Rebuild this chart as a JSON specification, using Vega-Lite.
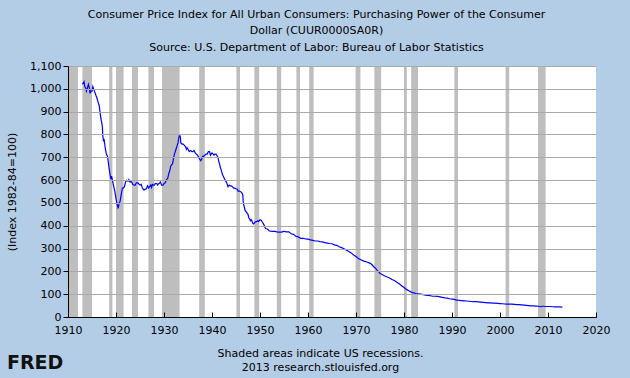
{
  "$schema": "https://vega.github.io/schema/vega-lite/v6.json",
  "width": 528,
  "height": 251,
  "autosize": {"type": "none"},
  "padding": {"left": 68, "top": 66, "right": 34, "bottom": 61},
  "background": "#b4cde6",
  "config": {
    "view": {"stroke": null, "fill": "#ffffff"},
    "font": "DejaVu Sans",
    "axis": {"labelFont": "DejaVu Sans", "titleFont": "DejaVu Sans", "labelColor": "#000000", "titleColor": "#000000", "titleFontWeight": "normal"}
  },
  "title": {
    "text": "FRED",
    "orient": "bottom",
    "anchor": "start",
    "frame": "group",
    "font": "DejaVu Sans",
    "fontSize": 19,
    "fontWeight": "bold",
    "color": "#111111",
    "offset": -18,
    "dx": -61
  },
  "datasets": {
    "rec": [
      {"start": 1910.0, "end": 1912.08},
      {"start": 1913.0, "end": 1915.0},
      {"start": 1918.58, "end": 1919.25},
      {"start": 1920.0, "end": 1921.58},
      {"start": 1923.33, "end": 1924.58},
      {"start": 1926.75, "end": 1927.92},
      {"start": 1929.58, "end": 1933.25},
      {"start": 1937.33, "end": 1938.5},
      {"start": 1945.08, "end": 1945.83},
      {"start": 1948.83, "end": 1949.83},
      {"start": 1953.5, "end": 1954.42},
      {"start": 1957.58, "end": 1958.33},
      {"start": 1960.25, "end": 1961.17},
      {"start": 1969.92, "end": 1970.92},
      {"start": 1973.83, "end": 1975.25},
      {"start": 1980.0, "end": 1980.58},
      {"start": 1981.5, "end": 1982.92},
      {"start": 1990.5, "end": 1991.25},
      {"start": 2001.17, "end": 2001.92},
      {"start": 2007.92, "end": 2009.5}
    ],
    "cpi": [
      {"t": 1913.0, "v": 1020}, {"t": 1913.33, "v": 1031}, {"t": 1913.5, "v": 1010}, {"t": 1913.75, "v": 1000}, {"t": 1913.83, "v": 990},
      {"t": 1914.0, "v": 1000}, {"t": 1914.25, "v": 1020}, {"t": 1914.5, "v": 1000}, {"t": 1914.58, "v": 980}, {"t": 1914.75, "v": 990},
      {"t": 1915.0, "v": 990}, {"t": 1915.17, "v": 1010}, {"t": 1915.5, "v": 990}, {"t": 1915.83, "v": 971},
      {"t": 1916.0, "v": 962}, {"t": 1916.25, "v": 943}, {"t": 1916.5, "v": 926}, {"t": 1916.75, "v": 885}, {"t": 1916.92, "v": 862},
      {"t": 1917.0, "v": 855}, {"t": 1917.17, "v": 833}, {"t": 1917.25, "v": 794}, {"t": 1917.42, "v": 769}, {"t": 1917.5, "v": 781}, {"t": 1917.75, "v": 741},
      {"t": 1918.0, "v": 714}, {"t": 1918.25, "v": 704}, {"t": 1918.5, "v": 662}, {"t": 1918.75, "v": 625}, {"t": 1918.92, "v": 606},
      {"t": 1919.0, "v": 606}, {"t": 1919.08, "v": 617}, {"t": 1919.25, "v": 599}, {"t": 1919.5, "v": 575}, {"t": 1919.75, "v": 552}, {"t": 1919.92, "v": 529},
      {"t": 1920.0, "v": 518}, {"t": 1920.25, "v": 493}, {"t": 1920.42, "v": 478}, {"t": 1920.5, "v": 481}, {"t": 1920.67, "v": 500}, {"t": 1920.83, "v": 505}, {"t": 1920.92, "v": 515},
      {"t": 1921.0, "v": 526}, {"t": 1921.17, "v": 546}, {"t": 1921.33, "v": 565}, {"t": 1921.5, "v": 565}, {"t": 1921.75, "v": 571},
      {"t": 1922.0, "v": 592}, {"t": 1922.17, "v": 599}, {"t": 1922.5, "v": 595}, {"t": 1922.67, "v": 602}, {"t": 1922.92, "v": 592},
      {"t": 1923.0, "v": 595}, {"t": 1923.25, "v": 592}, {"t": 1923.5, "v": 581}, {"t": 1923.75, "v": 578},
      {"t": 1924.0, "v": 578}, {"t": 1924.25, "v": 588}, {"t": 1924.58, "v": 588}, {"t": 1924.83, "v": 581},
      {"t": 1925.0, "v": 578}, {"t": 1925.25, "v": 581}, {"t": 1925.5, "v": 565}, {"t": 1925.83, "v": 556}, {"t": 1925.92, "v": 559},
      {"t": 1926.0, "v": 559}, {"t": 1926.33, "v": 562}, {"t": 1926.5, "v": 571}, {"t": 1926.58, "v": 575}, {"t": 1926.83, "v": 565},
      {"t": 1927.0, "v": 571}, {"t": 1927.25, "v": 578}, {"t": 1927.42, "v": 568}, {"t": 1927.58, "v": 581}, {"t": 1927.83, "v": 578},
      {"t": 1928.0, "v": 578}, {"t": 1928.17, "v": 585}, {"t": 1928.5, "v": 585}, {"t": 1928.67, "v": 578}, {"t": 1928.92, "v": 585},
      {"t": 1929.0, "v": 585}, {"t": 1929.25, "v": 592}, {"t": 1929.5, "v": 578}, {"t": 1929.83, "v": 578}, {"t": 1929.92, "v": 581},
      {"t": 1930.0, "v": 585}, {"t": 1930.25, "v": 588}, {"t": 1930.5, "v": 602}, {"t": 1930.75, "v": 606}, {"t": 1930.92, "v": 621},
      {"t": 1931.0, "v": 629}, {"t": 1931.25, "v": 645}, {"t": 1931.42, "v": 662}, {"t": 1931.75, "v": 671}, {"t": 1931.92, "v": 685},
      {"t": 1932.0, "v": 699}, {"t": 1932.25, "v": 719}, {"t": 1932.5, "v": 735}, {"t": 1932.75, "v": 752}, {"t": 1932.92, "v": 763},
      {"t": 1933.0, "v": 775}, {"t": 1933.17, "v": 794}, {"t": 1933.33, "v": 794}, {"t": 1933.42, "v": 787}, {"t": 1933.5, "v": 763}, {"t": 1933.75, "v": 758},
      {"t": 1934.0, "v": 758}, {"t": 1934.25, "v": 752}, {"t": 1934.5, "v": 746}, {"t": 1934.67, "v": 735}, {"t": 1934.83, "v": 741},
      {"t": 1935.0, "v": 735}, {"t": 1935.25, "v": 725}, {"t": 1935.5, "v": 730}, {"t": 1935.83, "v": 725},
      {"t": 1936.0, "v": 725}, {"t": 1936.25, "v": 730}, {"t": 1936.5, "v": 719}, {"t": 1936.75, "v": 714},
      {"t": 1937.0, "v": 709}, {"t": 1937.25, "v": 699}, {"t": 1937.5, "v": 690}, {"t": 1937.67, "v": 685}, {"t": 1937.92, "v": 694},
      {"t": 1938.0, "v": 704}, {"t": 1938.25, "v": 704}, {"t": 1938.5, "v": 709}, {"t": 1938.75, "v": 714},
      {"t": 1939.0, "v": 714}, {"t": 1939.25, "v": 725}, {"t": 1939.5, "v": 725}, {"t": 1939.67, "v": 709}, {"t": 1939.83, "v": 714},
      {"t": 1940.0, "v": 719}, {"t": 1940.25, "v": 714}, {"t": 1940.42, "v": 709}, {"t": 1940.58, "v": 714}, {"t": 1940.83, "v": 714},
      {"t": 1941.0, "v": 709}, {"t": 1941.25, "v": 699}, {"t": 1941.42, "v": 680}, {"t": 1941.58, "v": 671}, {"t": 1941.75, "v": 654}, {"t": 1941.92, "v": 645},
      {"t": 1942.0, "v": 637}, {"t": 1942.25, "v": 621}, {"t": 1942.5, "v": 610}, {"t": 1942.75, "v": 599}, {"t": 1942.92, "v": 592},
      {"t": 1943.0, "v": 592}, {"t": 1943.17, "v": 581}, {"t": 1943.33, "v": 571}, {"t": 1943.58, "v": 578}, {"t": 1943.75, "v": 575},
      {"t": 1944.0, "v": 575}, {"t": 1944.25, "v": 571}, {"t": 1944.5, "v": 565}, {"t": 1944.75, "v": 565}, {"t": 1944.92, "v": 562},
      {"t": 1945.0, "v": 562}, {"t": 1945.33, "v": 559}, {"t": 1945.42, "v": 552}, {"t": 1945.75, "v": 552}, {"t": 1945.92, "v": 549},
      {"t": 1946.0, "v": 549}, {"t": 1946.25, "v": 543}, {"t": 1946.42, "v": 535}, {"t": 1946.5, "v": 505}, {"t": 1946.58, "v": 495}, {"t": 1946.75, "v": 481}, {"t": 1946.92, "v": 465},
      {"t": 1947.0, "v": 465}, {"t": 1947.25, "v": 457}, {"t": 1947.5, "v": 450}, {"t": 1947.67, "v": 435}, {"t": 1947.92, "v": 427},
      {"t": 1948.0, "v": 422}, {"t": 1948.17, "v": 427}, {"t": 1948.33, "v": 420}, {"t": 1948.5, "v": 410}, {"t": 1948.67, "v": 408}, {"t": 1948.92, "v": 415},
      {"t": 1949.0, "v": 417}, {"t": 1949.25, "v": 418}, {"t": 1949.5, "v": 422}, {"t": 1949.67, "v": 418}, {"t": 1949.92, "v": 424},
      {"t": 1950.0, "v": 426}, {"t": 1950.25, "v": 424}, {"t": 1950.5, "v": 415}, {"t": 1950.75, "v": 407}, {"t": 1950.92, "v": 400},
      {"t": 1951.0, "v": 394}, {"t": 1951.17, "v": 388}, {"t": 1951.5, "v": 386}, {"t": 1951.75, "v": 382}, {"t": 1951.92, "v": 377},
      {"t": 1952.0, "v": 377}, {"t": 1952.5, "v": 375}, {"t": 1952.92, "v": 375},
      {"t": 1953.0, "v": 376}, {"t": 1953.5, "v": 373}, {"t": 1953.92, "v": 372},
      {"t": 1954.0, "v": 372}, {"t": 1954.5, "v": 372}, {"t": 1954.92, "v": 375},
      {"t": 1955.0, "v": 375}, {"t": 1955.5, "v": 373}, {"t": 1955.92, "v": 373},
      {"t": 1956.0, "v": 373}, {"t": 1956.5, "v": 365}, {"t": 1956.92, "v": 362},
      {"t": 1957.0, "v": 362}, {"t": 1957.5, "v": 353}, {"t": 1957.92, "v": 352},
      {"t": 1958.0, "v": 350}, {"t": 1958.5, "v": 345},
      {"t": 1959.0, "v": 345}, {"t": 1959.5, "v": 342},
      {"t": 1960.0, "v": 341}, {"t": 1960.5, "v": 338},
      {"t": 1961.0, "v": 336}, {"t": 1961.5, "v": 333},
      {"t": 1962.0, "v": 333}, {"t": 1962.5, "v": 330},
      {"t": 1963.0, "v": 329}, {"t": 1963.5, "v": 326},
      {"t": 1964.0, "v": 324}, {"t": 1964.5, "v": 322},
      {"t": 1965.0, "v": 321}, {"t": 1965.5, "v": 316},
      {"t": 1966.0, "v": 314}, {"t": 1966.5, "v": 308},
      {"t": 1967.0, "v": 304}, {"t": 1967.5, "v": 299},
      {"t": 1968.0, "v": 293}, {"t": 1968.5, "v": 287},
      {"t": 1969.0, "v": 281}, {"t": 1969.5, "v": 272},
      {"t": 1970.0, "v": 265}, {"t": 1970.5, "v": 256},
      {"t": 1971.0, "v": 251}, {"t": 1971.5, "v": 246},
      {"t": 1972.0, "v": 243}, {"t": 1972.5, "v": 239},
      {"t": 1973.0, "v": 235}, {"t": 1973.5, "v": 226}, {"t": 1973.58, "v": 222},
      {"t": 1974.0, "v": 215}, {"t": 1974.5, "v": 202},
      {"t": 1975.0, "v": 192}, {"t": 1975.5, "v": 185},
      {"t": 1976.0, "v": 180}, {"t": 1976.5, "v": 175},
      {"t": 1977.0, "v": 171}, {"t": 1977.5, "v": 164},
      {"t": 1978.0, "v": 160}, {"t": 1978.5, "v": 152},
      {"t": 1979.0, "v": 146}, {"t": 1979.5, "v": 137},
      {"t": 1980.0, "v": 129}, {"t": 1980.5, "v": 121},
      {"t": 1981.0, "v": 115}, {"t": 1981.5, "v": 109},
      {"t": 1982.0, "v": 106}, {"t": 1982.5, "v": 103},
      {"t": 1983.0, "v": 102}, {"t": 1983.5, "v": 100},
      {"t": 1984.0, "v": 98}, {"t": 1984.5, "v": 96},
      {"t": 1985.0, "v": 95}, {"t": 1985.5, "v": 93},
      {"t": 1986.0, "v": 91}, {"t": 1986.5, "v": 91},
      {"t": 1987.0, "v": 90}, {"t": 1987.5, "v": 88},
      {"t": 1988.0, "v": 86}, {"t": 1988.5, "v": 84},
      {"t": 1989.0, "v": 83}, {"t": 1989.5, "v": 80},
      {"t": 1990.0, "v": 78.5}, {"t": 1990.5, "v": 77},
      {"t": 1991.0, "v": 74}, {"t": 1991.5, "v": 73},
      {"t": 1992.0, "v": 72}, {"t": 1992.5, "v": 71},
      {"t": 1993.0, "v": 70}, {"t": 1993.5, "v": 69},
      {"t": 1994.0, "v": 68}, {"t": 1994.5, "v": 67},
      {"t": 1995.0, "v": 67}, {"t": 1995.5, "v": 66},
      {"t": 1996.0, "v": 65}, {"t": 1996.5, "v": 64},
      {"t": 1997.0, "v": 63}, {"t": 1997.5, "v": 62},
      {"t": 1998.0, "v": 62}, {"t": 1998.5, "v": 61},
      {"t": 1999.0, "v": 61}, {"t": 1999.5, "v": 60},
      {"t": 2000.0, "v": 59}, {"t": 2000.5, "v": 58},
      {"t": 2001.0, "v": 57}, {"t": 2001.5, "v": 56},
      {"t": 2002.0, "v": 56}, {"t": 2002.5, "v": 56},
      {"t": 2003.0, "v": 55}, {"t": 2003.5, "v": 54},
      {"t": 2004.0, "v": 54}, {"t": 2004.5, "v": 53},
      {"t": 2005.0, "v": 52}, {"t": 2005.5, "v": 51},
      {"t": 2006.0, "v": 50}, {"t": 2006.5, "v": 49},
      {"t": 2007.0, "v": 49}, {"t": 2007.5, "v": 48},
      {"t": 2008.0, "v": 47}, {"t": 2008.5, "v": 45}, {"t": 2008.92, "v": 48},
      {"t": 2009.0, "v": 47}, {"t": 2009.5, "v": 46},
      {"t": 2010.0, "v": 46}, {"t": 2010.5, "v": 46},
      {"t": 2011.0, "v": 45}, {"t": 2011.5, "v": 44},
      {"t": 2012.0, "v": 44}, {"t": 2012.5, "v": 44},
      {"t": 2013.0, "v": 43}
    ]
  },
  "layer": [
    {
      "data": {"name": "rec"},
      "mark": {"type": "rect", "color": "#bebebe"},
      "encoding": {
        "x": {
          "field": "start",
          "type": "quantitative",
          "scale": {"domain": [1910, 2020], "nice": false, "zero": false},
          "axis": {
            "orient": "bottom",
            "values": [1910, 1920, 1930, 1940, 1950, 1960, 1970, 1980, 1990, 2000, 2010, 2020],
            "format": "d",
            "grid": false,
            "domainColor": "#000000",
            "domainWidth": 1,
            "tickColor": "#000000",
            "tickSize": -5,
            "labelPadding": 12,
            "labelFontSize": 11,
            "labelFlush": false,
            "title": ["Shaded areas indicate US recessions.", "2013 research.stlouisfed.org"],
            "titleFontSize": 11,
            "titleLineHeight": 14,
            "titlePadding": 12,
            "titleX": 252,
            "zindex": 1
          }
        },
        "x2": {"field": "end"}
      }
    },
    {
      "data": {"name": "cpi"},
      "mark": {"type": "line", "color": "#0000ff", "strokeWidth": 1.2, "zindex": 2},
      "encoding": {
        "x": {
          "field": "t",
          "type": "quantitative",
          "axis": {
            "orient": "top",
            "labels": false,
            "ticks": false,
            "domain": false,
            "grid": false,
            "title": ["Consumer Price Index for All Urban Consumers: Purchasing Power of the Consumer", "Dollar (CUUR0000SA0R)", "Source: U.S. Department of Labor: Bureau of Labor Statistics"],
            "titleFontSize": 11,
            "titleLineHeight": 16.5,
            "titlePadding": 14,
            "titleX": 248
          }
        },
        "y": {
          "field": "v",
          "type": "quantitative",
          "scale": {"domain": [0, 1100], "nice": false},
          "axis": {
            "values": [0, 100, 200, 300, 400, 500, 600, 700, 800, 900, 1000, 1100],
            "format": ",d",
            "grid": true,
            "gridColor": "#aaaaaa",
            "gridWidth": 1,
            "domainColor": "#000000",
            "tickColor": "#000000",
            "tickSize": 5,
            "labelPadding": 2,
            "labelFontSize": 11,
            "title": "(Index 1982-84=100)",
            "titleFontSize": 11,
            "titlePadding": 12,
            "zindex": 1
          }
        }
      }
    }
  ],
  "resolve": {"axis": {"x": "independent"}}
}
